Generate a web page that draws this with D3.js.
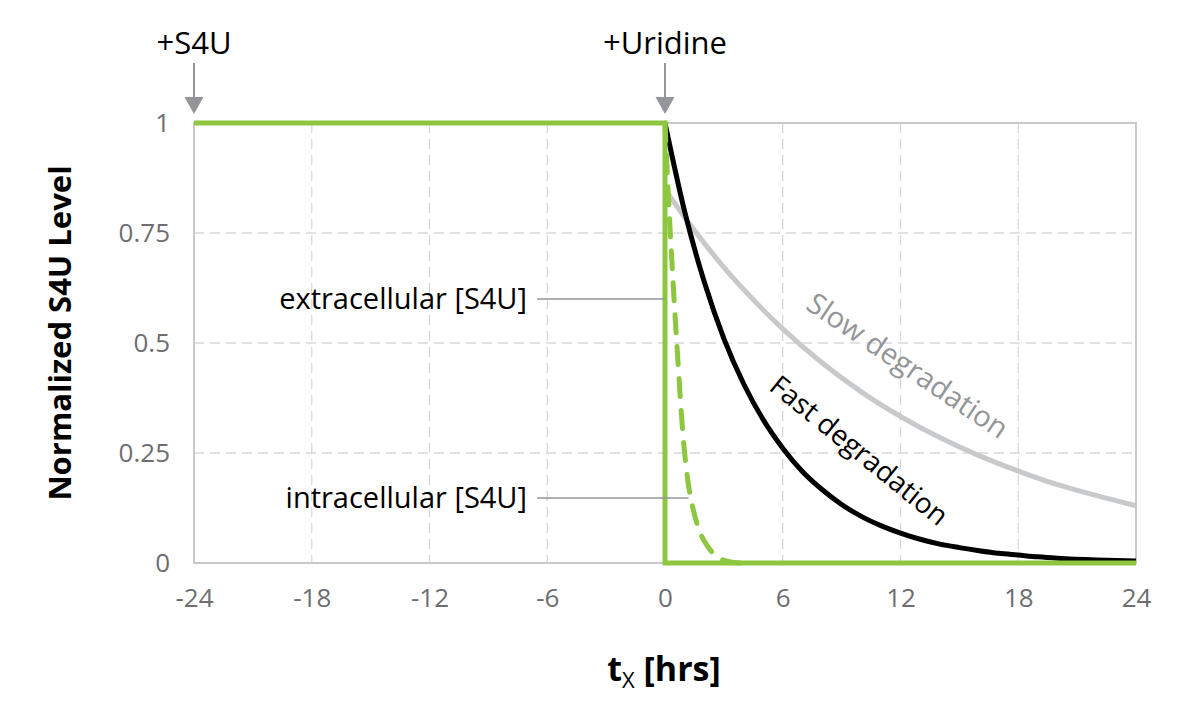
<!DOCTYPE html>
<html><head><meta charset="utf-8">
<script src="https://cdn.jsdelivr.net/npm/d3@7"></script>
<style>body{margin:0;background:#fff;} svg{display:block;font-family:"Open Sans",sans-serif;}</style>
</head><body>
<svg id="c" width="1200" height="722"></svg>
<script>
// ---- data ----
const xTicks = [-24, -18, -12, -6, 0, 6, 12, 18, 24];
const xTickLabels = ["-24", "-18", "-12", "-6", "0", "6", "12", "18", "24"];
const yTicks = [0, 0.25, 0.5, 0.75, 1];
const yTickLabels = ["0", "0.25", "0.5", "0.75", "1"];
// extracellular S4U (step)
const extraT = [-24, 0, 0, 24];
const extraV = [1, 1, 0, 0];
// intracellular S4U (dashed)
const intraT = [0, 0.1, 0.27, 0.6, 1.0, 1.3, 1.7, 2.0, 2.5, 3.0, 3.5, 4.0];
const intraV = [1, 0.9, 0.75, 0.5, 0.25, 0.15, 0.08, 0.05, 0.02, 0.006, 0.001, 0];
// fast degradation
const fastT = [0, 1, 2, 3, 4, 5, 6, 7, 8, 9, 10, 11, 12, 13, 14, 15, 16, 17, 18, 19, 20, 22, 24];
const fastV = [1, 0.799, 0.639, 0.51, 0.408, 0.326, 0.261, 0.208, 0.167, 0.133, 0.106, 0.085, 0.068, 0.054, 0.043, 0.035, 0.028, 0.022, 0.018, 0.014, 0.011, 0.007, 0.0046];
// slow degradation
const slowT = [0, 1, 2, 3, 4, 6, 8, 10, 12, 14, 16, 18, 20, 22, 24];
const slowV = [0.85, 0.786, 0.727, 0.672, 0.622, 0.532, 0.455, 0.389, 0.333, 0.285, 0.244, 0.209, 0.178, 0.153, 0.13];

const svg = d3.select("#c");
const x = d3.scaleLinear().domain([-24, 24]).range([194, 1136]);
const y = d3.scaleLinear().domain([0, 1]).range([563, 123]);

const gridC = "#d9d9d9", frameC = "#c8c9cb", tickC = "#6d6e71", annC = "#939598", green = "#8dc63f";

// grid
svg.append("g").selectAll("line").data(xTicks.filter(t => t > -24 && t < 24 && t !== 0)).join("line")
  .attr("x1", d => x(d)).attr("x2", d => x(d)).attr("y1", y(1)).attr("y2", y(0))
  .attr("stroke", gridC).attr("stroke-width", 1.3).attr("stroke-dasharray", "10,6");
svg.append("g").selectAll("line").data(yTicks.filter(t => t > 0 && t < 1)).join("line")
  .attr("x1", x(-24)).attr("x2", x(24)).attr("y1", d => y(d)).attr("y2", d => y(d))
  .attr("stroke", gridC).attr("stroke-width", 1.3).attr("stroke-dasharray", "10,6");
// frame
svg.append("rect").attr("x", x(-24)).attr("y", y(1)).attr("width", x(24) - x(-24)).attr("height", y(0) - y(1))
  .attr("fill", "none").attr("stroke", frameC).attr("stroke-width", 2);

// axes
const xAxis = svg.append("g").attr("transform", `translate(0,${y(0)})`)
  .call(d3.axisBottom(x).tickValues(xTicks).tickSize(0).tickPadding(26).tickFormat((d, i) => xTickLabels[i]));
xAxis.select(".domain").remove();
xAxis.selectAll("text").attr("fill", tickC).attr("font-size", 26).attr("font-family", "Open Sans");
const yAxis = svg.append("g").attr("transform", `translate(${x(-24)},0)`)
  .call(d3.axisLeft(y).tickValues(yTicks).tickSize(0).tickPadding(24).tickFormat((d, i) => yTickLabels[i]));
yAxis.select(".domain").remove();
yAxis.selectAll("text").attr("fill", tickC).attr("font-size", 26).attr("font-family", "Open Sans");

// lines
const line = d3.line().x(d => x(d[0])).y(d => y(d[1]));
const lineC = d3.line().x(d => x(d[0])).y(d => y(d[1])).curve(d3.curveMonotoneX);
svg.append("path").datum(slowT.map((t, i) => [t, slowV[i]])).attr("d", lineC)
  .attr("fill", "none").attr("stroke", "#c8c9cb").attr("stroke-width", 5);
svg.append("path").datum(fastT.map((t, i) => [t, fastV[i]])).attr("d", lineC)
  .attr("fill", "none").attr("stroke", "#000").attr("stroke-width", 5);
svg.append("path").datum(extraT.map((t, i) => [t, extraV[i]])).attr("d", line)
  .attr("fill", "none").attr("stroke", green).attr("stroke-width", 5).attr("stroke-linejoin", "miter");
svg.append("path").datum(intraT.map((t, i) => [t, intraV[i]]))
  .attr("d", d3.line().x(d => x(d[0])).y(d => y(d[1])).curve(d3.curveCatmullRom))
  .attr("fill", "none").attr("stroke", green).attr("stroke-width", 5)
  .attr("stroke-dasharray", "18,14").attr("stroke-linecap", "round");

// top annotations with arrows
function arrow(t, label, fs) {
  const cx = x(t);
  svg.append("text").attr("x", cx).attr("y", 54).attr("text-anchor", "middle")
    .attr("font-size", fs).attr("fill", "#000").text(label);
  svg.append("line").attr("x1", cx).attr("x2", cx).attr("y1", 63).attr("y2", 99)
    .attr("stroke", annC).attr("stroke-width", 2);
  svg.append("path").attr("d", `M${cx - 9.5},97 L${cx + 9.5},97 L${cx},114 Z`).attr("fill", annC);
}
arrow(-24, "+S4U", 31);
arrow(0, "+Uridine", 31);

// callouts
function callout(yv, x2, label) {
  svg.append("text").attr("x", 527).attr("y", yv + 10).attr("text-anchor", "end")
    .attr("font-size", 29).attr("fill", "#000").text(label);
  svg.append("line").attr("x1", 537).attr("x2", x2).attr("y1", yv).attr("y2", yv)
    .attr("stroke", annC).attr("stroke-width", 1.5);
}
callout(299, x(0), "extracellular [S4U]");
callout(498, x(1.2), "intracellular [S4U]");

// curve labels
svg.append("text").attr("transform", "translate(902,374) rotate(34)").attr("text-anchor", "middle")
  .attr("font-size", 29).attr("fill", annC).text("Slow degradation");
svg.append("text").attr("transform", "translate(853,458) rotate(39)").attr("text-anchor", "middle")
  .attr("font-size", 28).attr("fill", "#000").text("Fast degradation");

// axis titles
svg.append("text").attr("transform", "translate(71,333) rotate(-90)").attr("text-anchor", "middle")
  .attr("font-size", 31).attr("font-weight", "bold").attr("fill", "#000").text("Normalized S4U Level");
const xt = svg.append("text").attr("x", 664).attr("y", 681).attr("text-anchor", "middle")
  .attr("font-size", 34).attr("font-weight", "bold").attr("fill", "#000");
xt.append("tspan").text("t");
xt.append("tspan").attr("font-size", 22).attr("font-weight", "normal").attr("dy", 7).text("X");
xt.append("tspan").attr("dy", -7).text(" [hrs]");
</script>
</body></html>
